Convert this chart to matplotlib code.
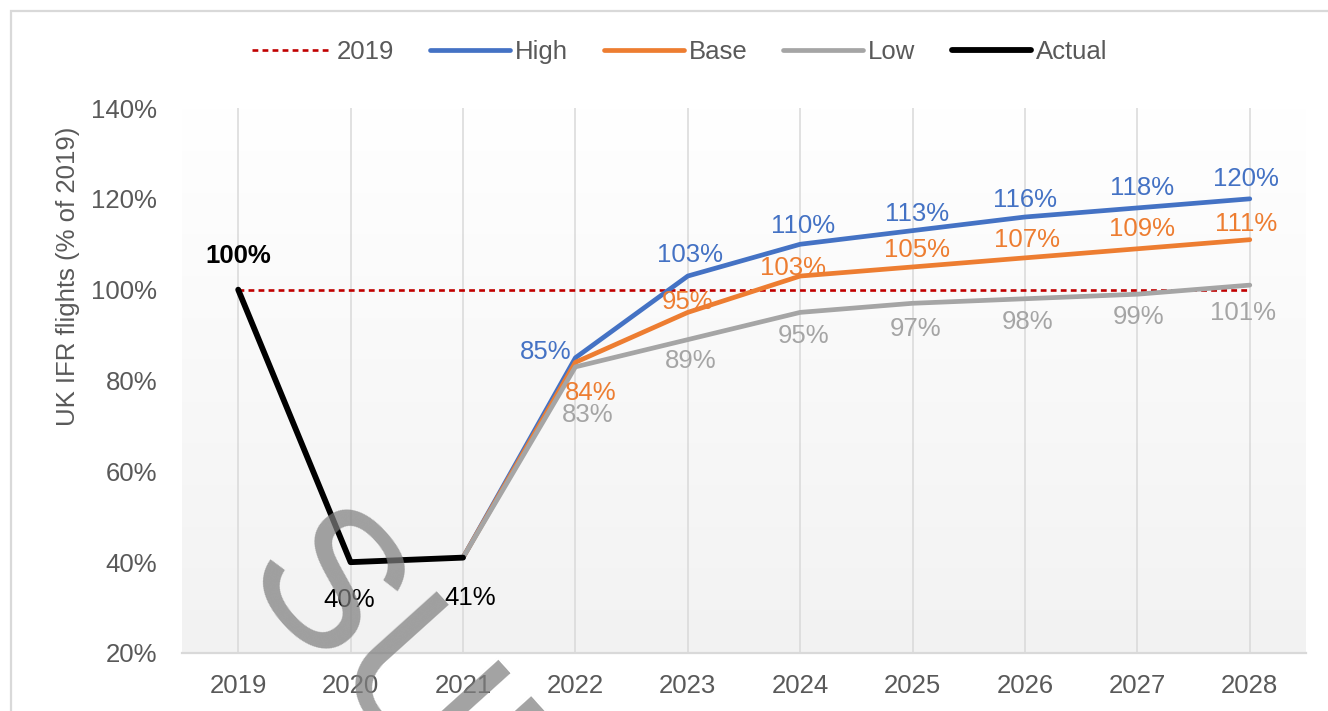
import numpy as np
import matplotlib.pyplot as plt
from matplotlib.colors import to_rgb
from matplotlib.patches import Rectangle

plt.rcParams['font.family'] = ['Liberation Sans', 'DejaVu Sans']

years = ["2019", "2020", "2021", "2022", "2023", "2024", "2025", "2026", "2027", "2028"]
ref_2019 = [100, 100, 100, 100, 100, 100, 100, 100, 100, 100]
actual = [100, 40, 41]
high = [41, 85, 103, 110, 113, 116, 118, 120]
base = [41, 84, 95, 103, 105, 107, 109, 111]
low = [41, 83, 89, 95, 97, 98, 99, 101]

C_REF = "#C00000"
C_HIGH = "#4472C4"
C_BASE = "#ED7D31"
C_LOW = "#A5A5A5"
C_TXT = "#595959"
FS = 18.5

fig = plt.figure(figsize=(13.28, 7.11), dpi=100)
W, H = 1328, 711
ax = fig.add_axes([182 / W, 1 - 653 / H, (1306 - 182) / W, (653 - 108) / H])

x = np.arange(len(years))
x_fc = x[2:]  # forecasts start from 2021

# gradient background, white at top to light grey at bottom
top_c = np.array(to_rgb("#FFFFFF"))
bot_c = np.array(to_rgb("#F2F2F2"))
t = np.linspace(0, 1, 256)[:, None]
grad = (top_c * (1 - t) + bot_c * t)[:, None, :]
ax.imshow(grad, extent=[-0.5, 9.5, 20, 140], aspect="auto", zorder=0)

for xi in x:
    ax.axvline(xi, color="#D9D9D9", lw=1.1, zorder=1)

ax.plot(x, ref_2019, color=C_REF, lw=1.9, ls=(0, (2.2, 1.6)), label="2019", zorder=3)
ax.plot(x_fc, high, color=C_HIGH, lw=3.4, label="High", zorder=3, solid_capstyle="round")
ax.plot(x_fc, base, color=C_BASE, lw=3.4, label="Base", zorder=3, solid_capstyle="round")
ax.plot(x_fc, low, color=C_LOW, lw=3.4, label="Low", zorder=3, solid_capstyle="round")
ax.plot(x[:3], actual, color="black", lw=4.2, label="Actual", zorder=4, solid_capstyle="round")

ax.set_xlim(-0.5, 9.5)
ax.set_ylim(20, 140)
ax.set_yticks([20, 40, 60, 80, 100, 120, 140])
ax.set_yticklabels([f"{v}%" for v in [20, 40, 60, 80, 100, 120, 140]])
ax.set_xticks(x)
ax.set_xticklabels(years)
ax.tick_params(axis="both", length=0, labelsize=FS, labelcolor=C_TXT)
ax.tick_params(axis="y", pad=18)
ax.tick_params(axis="x", pad=15)
for s in ["top", "left", "right"]:
    ax.spines[s].set_visible(False)
ax.spines["bottom"].set_color("#D9D9D9")
ax.spines["bottom"].set_linewidth(1.6)
ax.spines["bottom"].set_zorder(2)


def lab(xi, v, dx, dy, color, bold=False):
    ax.annotate(f"{v}%", (xi, v), xytext=(dx, dy), textcoords="offset pixels",
                ha="center", va="center", fontsize=FS, color=color,
                fontweight="bold" if bold else "normal", zorder=5)


# actual labels
lab(0, actual[0], 0, 34, "black", bold=True)
lab(1, actual[1], -1, -38, "black")
lab(2, actual[2], 7, -40, "black")

# high labels
high_off = [(-30, 6), (2, 21), (3, 18), (4, 17), (0, 17), (5, 20), (-4, 20)]
for xi, v, (dx, dy) in zip(x_fc[1:], high[1:], high_off):
    lab(xi, v, dx, dy, C_HIGH)

# base labels
base_off = [(15, -31), (0, 10), (-7, 8), (4, 17), (2, 18), (5, 20), (-4, 16)]
for xi, v, (dx, dy) in zip(x_fc[1:], base[1:], base_off):
    lab(xi, v, dx, dy, C_BASE)

# low labels
low_off = [(12, -48), (3, -21), (3, -24), (3, -26), (3, -23), (1, -23), (-7, -28)]
for xi, v, (dx, dy) in zip(x_fc[1:], low[1:], low_off):
    lab(xi, v, dx, dy, C_LOW)

fig.text(68 / W, 1 - 276 / H, "UK IFR flights (% of 2019)", rotation=90,
         ha="center", va="center", fontsize=FS, color=C_TXT)

leg = ax.legend(loc="center", bbox_to_anchor=(680 / W, 1 - 52 / H),
                bbox_transform=fig.transFigure, ncol=5, frameon=False,
                fontsize=FS, handlelength=3.1, handletextpad=0.2,
                columnspacing=1.4)
for txt in leg.get_texts():
    txt.set_color(C_TXT)

# outer chart border (only top/left visible in the crop)
fig.patches.append(Rectangle((11 / W, -0.1), 1.2, 1 - 11 / H + 0.1,
                             transform=fig.transFigure, fill=False,
                             edgecolor="#D9D9D9", lw=1.6))

# watermark
fig.text(274 / W, 1 - 546 / H, "SUPERSEDED", rotation=-48, rotation_mode="anchor",
         ha="left", va="center", fontsize=140, color="#7F7F7F", alpha=0.72,
         zorder=10)

fig.savefig("out.png", dpi=100)
